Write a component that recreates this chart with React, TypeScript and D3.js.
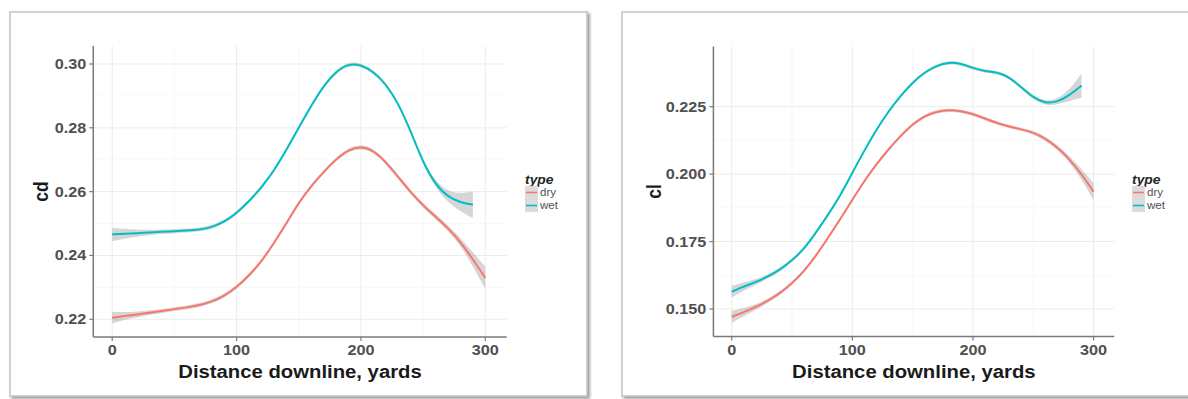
import React, { useEffect, useRef } from "react";
import * as d3 from "d3";

// distance downline (yards), one smoothed point every 10 yards
const distance = [0, 10, 20, 30, 40, 50, 60, 70, 80, 90, 100, 110, 120, 130, 140, 150,
  160, 170, 180, 190, 200, 210, 220, 230, 240, 250, 260, 270, 280, 290, 300];

const types = ["dry", "wet"];
const typeColors = ["#F8766D", "#00BFC4"];

// cd panel (left)
const cdDry = [0.2205, 0.2210, 0.2215, 0.2221, 0.2226, 0.2232, 0.2237, 0.2244, 0.2255, 0.2273,
  0.2300, 0.2337, 0.2381, 0.2438, 0.2500, 0.2566, 0.2618, 0.2662, 0.2702, 0.2732,
  0.2742, 0.2730, 0.2693, 0.2646, 0.2598, 0.2556, 0.2522, 0.2486, 0.2443, 0.2388, 0.2330];
const cdDrySe = [0.0018, 0.0012, 0.0009, 0.0007, 0.0006, 0.0006, 0.0006, 0.0006, 0.0006, 0.0006,
  0.0006, 0.0006, 0.0006, 0.0006, 0.0006, 0.0006, 0.0006, 0.0006, 0.0006, 0.0006,
  0.0006, 0.0006, 0.0006, 0.0006, 0.0006, 0.0007, 0.0008, 0.0009, 0.0012, 0.0022, 0.0035];
const cdWet = [0.2466, 0.2468, 0.2470, 0.2472, 0.2474, 0.2476, 0.2478, 0.2481, 0.2488, 0.2505,
  0.2532, 0.2570, 0.2613, 0.2665, 0.2730, 0.2801, 0.2869, 0.2932, 0.2977, 0.3001,
  0.2998, 0.2976, 0.2938, 0.2877, 0.2790, 0.2690, 0.2622, 0.2583, 0.2566, 0.2559];
const cdWetSe = [0.0021, 0.0015, 0.0011, 0.0008, 0.0007, 0.0006, 0.0006, 0.0006, 0.0006, 0.0006,
  0.0006, 0.0006, 0.0006, 0.0006, 0.0006, 0.0006, 0.0006, 0.0006, 0.0006, 0.0006,
  0.0006, 0.0006, 0.0006, 0.0006, 0.0006, 0.0007, 0.0010, 0.0017, 0.0028, 0.0042];
const cdTicks = [0.22, 0.24, 0.26, 0.28, 0.30];

// cl panel (right)
const clDry = [0.1471, 0.1488, 0.1507, 0.1530, 0.1558, 0.1595, 0.1640, 0.1698, 0.1765, 0.1833,
  0.1905, 0.1975, 0.2037, 0.2092, 0.2142, 0.2185, 0.2216, 0.2232, 0.2238, 0.2234,
  0.2223, 0.2206, 0.2189, 0.2176, 0.2166, 0.2155, 0.2132, 0.2099, 0.2056, 0.2000, 0.1935];
const clDrySe = [0.0022, 0.0015, 0.0010, 0.0008, 0.0007, 0.0006, 0.0006, 0.0006, 0.0006, 0.0006,
  0.0006, 0.0006, 0.0006, 0.0006, 0.0006, 0.0006, 0.0006, 0.0006, 0.0006, 0.0006,
  0.0006, 0.0006, 0.0006, 0.0006, 0.0006, 0.0007, 0.0008, 0.0009, 0.0012, 0.0018, 0.0032];
const clWet = [0.1564, 0.1583, 0.1600, 0.1620, 0.1645, 0.1680, 0.1722, 0.1784, 0.1850, 0.1920,
  0.2005, 0.2088, 0.2165, 0.2233, 0.2290, 0.2340, 0.2378, 0.2402, 0.2415, 0.2410,
  0.2393, 0.2381, 0.2378, 0.2360, 0.2322, 0.2283, 0.2262, 0.2267, 0.2292, 0.2328];
const clWetSe = [0.0022, 0.0015, 0.0010, 0.0008, 0.0007, 0.0006, 0.0006, 0.0006, 0.0006, 0.0006,
  0.0006, 0.0006, 0.0006, 0.0006, 0.0006, 0.0006, 0.0006, 0.0006, 0.0006, 0.0006,
  0.0006, 0.0006, 0.0006, 0.0006, 0.0006, 0.0007, 0.0008, 0.0010, 0.0020, 0.0045];
const clTicks = [0.15, 0.175, 0.2, 0.225];

const xTicks = [0, 100, 200, 300];
const xMinor = [50, 150, 250];

const FONT = "'Liberation Sans', Arial, Helvetica, sans-serif";
const STRETCH = 1.16; // the screenshot is a bit wider than tall

function drawPanel(svg, cfg) {
  const g = svg.append("g");

  // screenshot frame with shadow
  g.append("rect")
    .attr("x", cfg.frame[0]).attr("y", cfg.frame[1])
    .attr("width", cfg.frame[2]).attr("height", cfg.frame[3])
    .attr("fill", "white")
    .attr("stroke", "#c4c4c4")
    .attr("stroke-width", 1.5)
    .attr("filter", "url(#shadow)");

  const x = d3.scaleLinear().domain([-15.2, 317.2]).range(cfg.xRange);
  const y = d3.scaleLinear().domain(cfg.yDomain).range(cfg.yRange);
  const [x0, x1] = cfg.xRange;
  const [yb, yt] = cfg.yRange;

  // minor grid
  const yMinor = cfg.yTicks.slice(1).map((t, i) => (t + cfg.yTicks[i]) / 2);
  g.selectAll(".gxm").data(xMinor).enter().append("line")
    .attr("x1", d => x(d)).attr("x2", d => x(d)).attr("y1", yt).attr("y2", yb)
    .attr("stroke", "#f6f6f6").attr("stroke-width", 0.8);
  g.selectAll(".gym").data(yMinor).enter().append("line")
    .attr("x1", x0).attr("x2", x1).attr("y1", d => y(d)).attr("y2", d => y(d))
    .attr("stroke", "#f6f6f6").attr("stroke-width", 0.8);
  // major grid
  g.selectAll(".gx").data(xTicks).enter().append("line")
    .attr("x1", d => x(d)).attr("x2", d => x(d)).attr("y1", yt).attr("y2", yb)
    .attr("stroke", "#ececec").attr("stroke-width", 1);
  g.selectAll(".gy").data(cfg.yTicks).enter().append("line")
    .attr("x1", x0).attr("x2", x1).attr("y1", d => y(d)).attr("y2", d => y(d))
    .attr("stroke", "#ececec").attr("stroke-width", 1);

  // ribbons then lines
  cfg.series.forEach((s) => {
    const pts = s.values.map((v, j) => ({ d: distance[j], v, se: s.se[j] }));
    const area = d3.area()
      .x(p => x(p.d)).y0(p => y(p.v - p.se)).y1(p => y(p.v + p.se))
      .curve(d3.curveBasis);
    g.append("path").attr("d", area(pts))
      .attr("fill", "#999999").attr("fill-opacity", 0.4);
  });
  cfg.series.forEach((s, i) => {
    const pts = s.values.map((v, j) => ({ d: distance[j], v }));
    const line = d3.line().x(p => x(p.d)).y(p => y(p.v)).curve(d3.curveBasis);
    g.append("path").attr("d", line(pts))
      .attr("fill", "none").attr("stroke", typeColors[i]).attr("stroke-width", 2);
  });

  // axes
  const axisColor = "#7a7a7a";
  g.append("line").attr("x1", x0).attr("x2", x0).attr("y1", yt).attr("y2", yb)
    .attr("stroke", axisColor).attr("stroke-width", 1.5);
  g.append("line").attr("x1", x0).attr("x2", x1).attr("y1", yb).attr("y2", yb)
    .attr("stroke", axisColor).attr("stroke-width", 1.5);

  g.selectAll(".ty").data(cfg.yTicks).enter().append("line")
    .attr("x1", x0 - 4).attr("x2", x0).attr("y1", d => y(d)).attr("y2", d => y(d))
    .attr("stroke", axisColor).attr("stroke-width", 1.2);
  g.selectAll(".tx").data(xTicks).enter().append("line")
    .attr("x1", d => x(d)).attr("x2", d => x(d)).attr("y1", yb).attr("y2", yb + 4)
    .attr("stroke", axisColor).attr("stroke-width", 1.2);

  g.selectAll(".ly").data(cfg.yTicks).enter().append("text")
    .attr("transform", d => `translate(${x0 - 7},${y(d) + 5}) scale(${STRETCH},1)`)
    .attr("text-anchor", "end")
    .attr("font-family", FONT).attr("font-size", 14).attr("font-weight", "bold")
    .attr("fill", "#505050")
    .text(d => d3.format(cfg.yFormat)(d));
  g.selectAll(".lx").data(xTicks).enter().append("text")
    .attr("transform", d => `translate(${x(d)},${yb + 18}) scale(${STRETCH},1)`)
    .attr("text-anchor", "middle")
    .attr("font-family", FONT).attr("font-size", 14).attr("font-weight", "bold")
    .attr("fill", "#505050")
    .text(d => d);

  // axis titles
  g.append("text")
    .attr("transform", `translate(${(x0 + x1) / 2},378) scale(${STRETCH},1)`)
    .attr("text-anchor", "middle")
    .attr("font-family", FONT).attr("font-size", 17.5).attr("font-weight", "bold")
    .attr("fill", "#1a1a1a")
    .text("Distance downline, yards");
  g.append("text")
    .attr("transform", `translate(${cfg.yTitleX},${(yt + yb) / 2}) scale(${STRETCH},1) rotate(-90)`)
    .attr("text-anchor", "middle")
    .attr("font-family", FONT).attr("font-size", 17.5).attr("font-weight", "bold")
    .attr("fill", "#1a1a1a")
    .text(cfg.yTitle);

  // legend
  const lx = cfg.legendX;
  g.append("text")
    .attr("transform", `translate(${lx},184) scale(${STRETCH},1)`)
    .attr("font-family", FONT).attr("font-size", 12).attr("font-weight", "bold")
    .attr("font-style", "italic").attr("fill", "#262626")
    .text("type");
  types.forEach((t, i) => {
    const ky = 186 + i * 13;
    g.append("rect").attr("x", lx).attr("y", ky).attr("width", 13).attr("height", 13)
      .attr("fill", "#dcdcdc");
    g.append("line").attr("x1", lx + 1).attr("x2", lx + 12)
      .attr("y1", ky + 6.5).attr("y2", ky + 6.5)
      .attr("stroke", typeColors[i]).attr("stroke-width", 1.6);
    g.append("text")
      .attr("transform", `translate(${lx + 15},${ky + 10}) scale(${STRETCH},1)`)
      .attr("font-family", FONT).attr("font-size", 10).attr("fill", "#505050")
      .text(t);
  });
}

function App() {
  const ref = useRef(null);

  useEffect(() => {
    const svg = d3.select(ref.current);
    svg.selectAll("*").remove();

    const defs = svg.append("defs");
    defs.append("filter").attr("id", "shadow")
      .attr("x", "-5%").attr("y", "-5%").attr("width", "110%").attr("height", "110%")
      .append("feDropShadow")
      .attr("dx", 2).attr("dy", 2).attr("stdDeviation", 1.6)
      .attr("flood-color", "#666").attr("flood-opacity", 0.7);

    drawPanel(svg, {
      frame: [10, 12, 577, 384],
      xRange: [93.3, 506.7],
      yDomain: [0.21445, 0.30564],
      yRange: [337, 46],
      yTicks: cdTicks,
      yFormat: ".2f",
      yTitle: "cd",
      yTitleX: 48,
      legendX: 525,
      series: [{ values: cdDry, se: cdDrySe }, { values: cdWet, se: cdWetSe }],
    });

    drawPanel(svg, {
      frame: [622, 12, 600, 384],
      xRange: [713.4, 1114.3],
      yDomain: [0.1398, 0.2473],
      yRange: [336.5, 46.5],
      yTicks: clTicks,
      yFormat: ".3f",
      yTitle: "cl",
      yTitleX: 661,
      legendX: 1132,
      series: [{ values: clDry, se: clDrySe }, { values: clWet, se: clWetSe }],
    });
  }, []);

  return (
    <svg ref={ref} width={1188} height={399}
      style={{ position: "absolute", left: 0, top: 0, background: "white" }} />
  );
}

export default App;
